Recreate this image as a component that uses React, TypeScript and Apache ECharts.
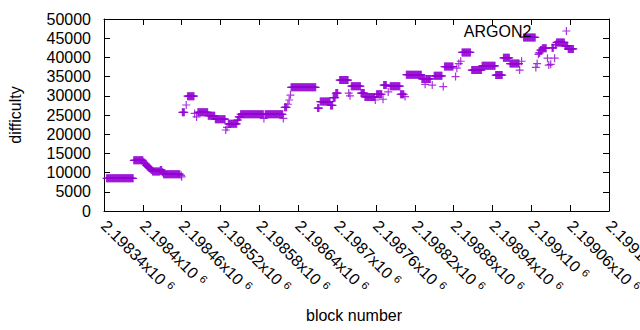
import React, { useEffect, useRef } from "react";
import * as echarts from "echarts";

// x axis range (block numbers) and tick labels (mantissa of "…x10^6")
const X_MIN = 2198340;
const X_MAX = 2199120;
const X_STEP = 60;
const xTickMantissas = [
  "2.19834", "2.1984", "2.19846", "2.19852", "2.19858", "2.19864", "2.1987",
  "2.19876", "2.19882", "2.19888", "2.19894", "2.199", "2.19906", "2.19912",
];

const Y_MIN = 0;
const Y_MAX = 50000;
const Y_STEP = 5000;

// Runs of consecutive blocks sharing the same difficulty,
// block numbers are given as offsets from BLOCK_BASE
const BLOCK_BASE = 2198340;
const runFrom = [
  4, 46, 61, 63, 65, 67, 69, 71, 73, 75,
  87, 90, 92, 119, 120, 121, 127, 129, 140, 143,
  145, 161, 172, 188, 190, 192, 206, 208, 211, 247,
  249, 277, 279, 284, 286, 288, 289, 330, 334, 350,
  354, 358, 364, 378, 380, 382, 397, 403, 419, 421,
  431, 432, 439, 442, 458, 465, 467, 491, 496, 497,
  507, 510, 524, 526, 543, 545, 548, 551, 553, 568,
  584, 605, 617, 627, 642, 645, 648, 667, 669, 671,
  672, 674, 677, 685, 687, 690, 692, 696, 697, 699,
  712, 717,
];
const runTo = [
  45, 60, 62, 64, 66, 68, 70, 72, 74, 86,
  89, 91, 117, 119, 120, 124, 127, 139, 140, 143,
  160, 171, 187, 188, 190, 205, 207, 210, 246, 247,
  276, 277, 282, 284, 286, 288, 327, 332, 349, 353,
  357, 361, 377, 378, 380, 396, 402, 418, 419, 429,
  431, 436, 439, 457, 463, 465, 490, 495, 496, 504,
  507, 522, 524, 539, 543, 545, 548, 551, 566, 583,
  604, 615, 626, 641, 642, 645, 666, 667, 669, 671,
  673, 676, 683, 685, 687, 690, 694, 696, 698, 711,
  716, 725,
];
const runDifficulty = [
  8500, 13200, 12700, 12300, 11900, 11600, 11300, 11000, 10700, 10300,
  10700, 10100, 9600, 9300, 8900, 25700, 27600, 29900, 25400, 24500,
  25700, 24800, 23900, 21100, 21800, 22700, 23700, 24500, 25200, 24100,
  25200, 24100, 27000, 27800, 28900, 30200, 32200, 26800, 28500, 27500,
  29500, 30700, 34100, 30700, 30000, 32500, 30700, 29700, 28900, 30400,
  29100, 32800, 31000, 32500, 30400, 29800, 35500, 34400, 33000, 34400,
  32800, 35200, 32400, 37600, 35000, 37200, 38400, 39000, 41300, 36700,
  37800, 35400, 39900, 38400, 36700, 39000, 45200, 37400, 38400, 40800,
  41200, 41900, 42400, 39800, 38000, 38200, 42500, 39800, 43300, 43900,
  43000, 42200,
];

const SERIES_NAME = "ARGON2";
const FONT = "Liberation Sans, Arial, sans-serif";
const FS = 16;
const COLOR = "#9400d3";
const PLUS = "path://M0,4L8,4M4,0L4,8";

function buildPoints(): [number, number][] {
  const pts: [number, number][] = [];
  for (let i = 0; i < runFrom.length; i++) {
    for (let b = runFrom[i]; b <= runTo[i]; b++) pts.push([BLOCK_BASE + b, runDifficulty[i]]);
  }
  return pts;
}

export default function App() {
  const ref = useRef<HTMLDivElement>(null);
  useEffect(() => {
    if (!ref.current) return;
    const chart = echarts.init(ref.current, undefined, { renderer: "svg" });
    const axisLine = { show: true, onZero: false, lineStyle: { color: "#000", width: 1 } };
    const axisTick = { show: true, inside: true, length: 6, lineStyle: { color: "#000", width: 1 } };
    const xBase = { type: "value", min: X_MIN, max: X_MAX, interval: X_STEP, splitLine: { show: false }, axisLine, axisTick };
    const yBase = { type: "value", min: Y_MIN, max: Y_MAX, interval: Y_STEP, splitLine: { show: false }, axisLine, axisTick };
    chart.setOption({
      animation: false,
      backgroundColor: "#fff",
      textStyle: { fontFamily: FONT },
      grid: { left: 104, right: 31, top: 19, bottom: 119, containLabel: false, outerBoundsMode: "none" },
      legend: {
        show: true,
        right: 69,
        top: 23,
        padding: 0,
        align: "right",
        itemWidth: 8,
        itemHeight: 8,
        selectedMode: false,
        data: [{ name: SERIES_NAME, icon: PLUS }],
        itemStyle: { color: "transparent", borderColor: COLOR, borderWidth: 1.2 },
        textStyle: { fontSize: FS, color: "#000", fontFamily: FONT, padding: [0, 26, 0, 0] },
      },
      xAxis: [
        {
          ...xBase,
          position: "bottom",
          name: "block number",
          nameLocation: "middle",
          nameGap: 96,
          nameTextStyle: { fontSize: FS, color: "#000", fontFamily: FONT, padding: [0, 5, 0, 0] },
          axisLabel: {
            show: true,
            rotate: -45,
            margin: 12,
            interval: 0,
            showMinLabel: true,
            showMaxLabel: true,
            hideOverlap: false,
            color: "#000",
            fontSize: FS,
            fontFamily: FONT,
            formatter: (v: number) => {
              const i = Math.round((v - X_MIN) / X_STEP);
              return `{m|${xTickMantissas[i]}x10}{s|6}`;
            },
            rich: {
              m: { fontSize: FS, color: "#000", fontFamily: FONT },
              s: { fontSize: 11, color: "#000", fontFamily: FONT, padding: [0, 0, 7, 5], verticalAlign: "bottom" },
            },
          },
        },
        { ...xBase, position: "top", axisLabel: { show: false } },
      ],
      yAxis: [
        {
          ...yBase,
          position: "left",
          name: "difficulty",
          nameLocation: "middle",
          nameRotate: 90,
          nameGap: 81,
          nameTextStyle: { fontSize: FS, color: "#000", fontFamily: FONT },
          axisLabel: {
            show: true,
            margin: 13,
            color: "#000",
            fontSize: FS,
            fontFamily: FONT,
            formatter: (v: number) => String(v),
          },
        },
        { ...yBase, position: "right", axisLabel: { show: false } },
      ],
      series: [
        {
          name: SERIES_NAME,
          type: "scatter",
          xAxisIndex: 0,
          yAxisIndex: 0,
          data: buildPoints(),
          symbol: PLUS,
          symbolSize: 8,
          silent: true,
          itemStyle: { color: "transparent", borderColor: COLOR, borderWidth: 1.2 },
          emphasis: { disabled: true },
        },
      ],
    });
    return () => chart.dispose();
  }, []);
  return (
    <div
      ref={ref}
      style={{ position: "fixed", left: 0, top: 0, width: 640, height: 330, background: "#fff" }}
    />
  );
}
